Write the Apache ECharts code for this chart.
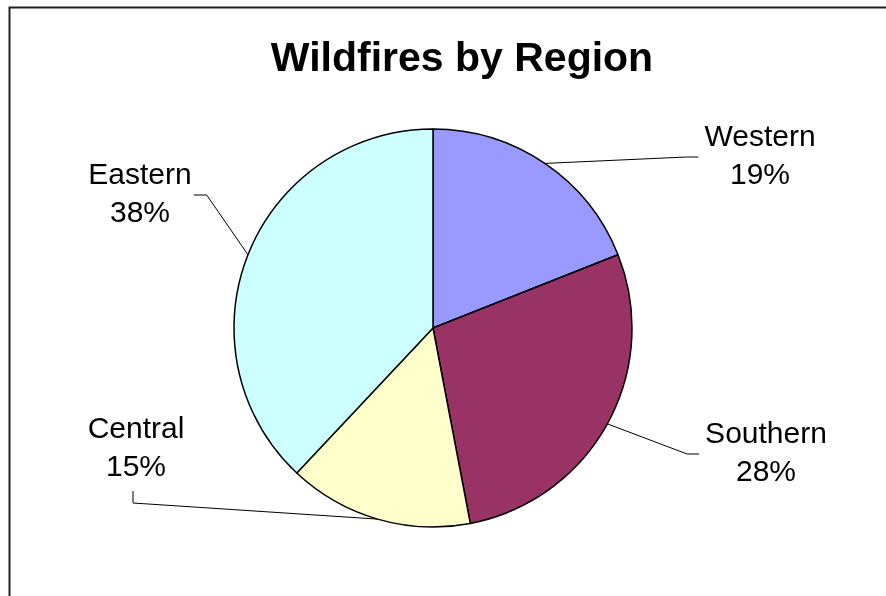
<!DOCTYPE html>
<html>
<head>
<meta charset="utf-8">
<title>Wildfires by Region</title>
<script src="https://cdn.jsdelivr.net/npm/echarts@6/dist/echarts.min.js"></script>
<style>
  html, body { margin: 0; padding: 0; background: #fff; }
  #chart { width: 886px; height: 596px; }
</style>
</head>
<body>
<div id="chart"></div>
<script>
const regions = ['Western', 'Southern', 'Central', 'Eastern'];
const shares = [19, 28, 15, 38];
const sliceColors = ['#9999FF', '#993366', '#FFFFCC', '#CCFFFF'];

// centre of each label block and the side its leader line joins
const labelSpots = {
  Western: { x: 760, y: 157, side: 'left' },
  Southern: { x: 766, y: 454, side: 'left' },
  Central: { x: 136, y: 449, side: 'bottom' },
  Eastern: { x: 140, y: 195, side: 'right' }
};

const fontFamily = '"Liberation Sans", Arial, Helvetica, sans-serif';

function placeLabel(params) {
  const spot = labelSpots[regions[params.dataIndex]];
  const w = params.labelRect.width;
  const h = params.labelRect.height;
  // first point is where echarts anchors the line on the slice edge
  const p0 = params.labelLinePoints ? params.labelLinePoints[0] : [spot.x, spot.y];
  let end, elbow;
  if (spot.side === 'left') {
    end = [spot.x - w / 2 - 6, spot.y];
    elbow = [end[0] - 12, end[1]];
  } else if (spot.side === 'right') {
    end = [spot.x + w / 2 + 2, spot.y];
    elbow = [end[0] + 13, end[1]];
  } else {
    end = [spot.x - 3, spot.y + h / 2 + 4];
    elbow = [end[0], end[1] + 12];
  }
  return {
    x: spot.x,
    y: spot.y,
    align: 'center',
    verticalAlign: 'middle',
    labelLinePoints: [p0, elbow, end]
  };
}

const chart = echarts.init(document.getElementById('chart'));

chart.setOption({
  animation: false,
  backgroundColor: '#fff',
  title: {
    text: 'Wildfires by Region',
    left: 457,
    top: 34,
    textAlign: 'center',
    textStyle: {
      fontFamily: fontFamily,
      fontSize: 41,
      fontWeight: 'bold',
      color: '#000',
      lineHeight: 41
    }
  },
  graphic: [
    {
      type: 'rect',
      left: 7,
      top: 5,
      shape: { x: 0, y: 0, width: 900, height: 620 },
      style: { fill: null, stroke: '#222', lineWidth: 2 },
      silent: true
    }
  ],
  series: [
    {
      type: 'pie',
      center: [433, 328],
      radius: 199,
      startAngle: 90,
      clockwise: true,
      avoidLabelOverlap: false,
      percentPrecision: 0,
      emphasis: { disabled: true },
      itemStyle: {
        borderColor: '#000',
        borderWidth: 1.5
      },
      label: {
        show: true,
        position: 'outside',
        formatter: '{b}\n{d}%',
        fontFamily: fontFamily,
        fontSize: 30,
        lineHeight: 38,
        color: '#000'
      },
      labelLine: {
        show: true,
        smooth: false,
        lineStyle: { color: '#000', width: 1 }
      },
      labelLayout: placeLabel,
      data: regions.map((name, i) => ({
        name: name,
        value: shares[i],
        itemStyle: { color: sliceColors[i] }
      }))
    }
  ]
});
</script>
</body>
</html>
